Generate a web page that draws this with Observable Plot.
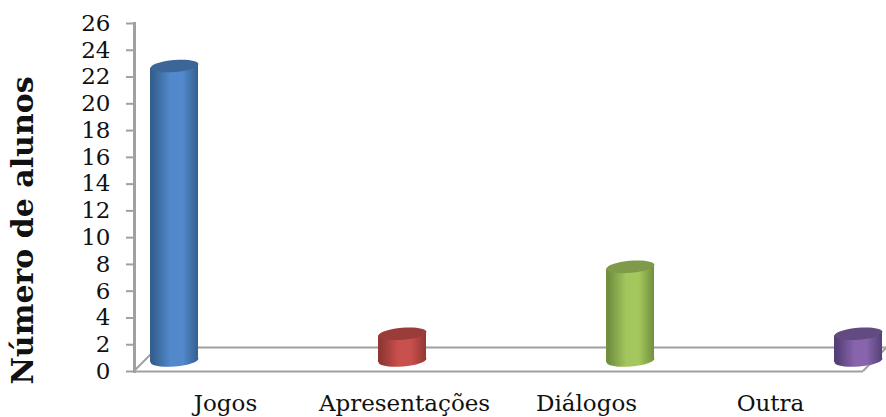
<!DOCTYPE html>
<html><head><meta charset="utf-8">
<script src="https://cdn.jsdelivr.net/npm/d3@7"></script>
<script src="https://cdn.jsdelivr.net/npm/@observablehq/plot@0.6"></script>
<style>html,body{margin:0;padding:0;background:#fff}svg{display:block}</style>
</head><body><div id="chart"></div>
<script>
const categories = ["Jogos", "Apresentações", "Diálogos", "Outra"];
const values = [22, 2, 7, 2];
const yTicks = [0, 2, 4, 6, 8, 10, 12, 14, 16, 18, 20, 22, 24, 26];
const yTitle = "Número de alunos";
const shades = [
  {edge: "#33608f", mid: "#5289cc", top: "#3c6698"},
  {edge: "#913733", mid: "#c8504d", top: "#9a3c39"},
  {edge: "#71903f", mid: "#a3c75d", top: "#7f9a48"},
  {edge: "#553f78", mid: "#8764ab", top: "#624b80"}
];
const labelShift = [51, 2, -44, -88];

const serif = "'DejaVu Serif', serif";
const gray = "#a0a0a0";
const depth = 24, lift = 11, tilt = -5 * Math.PI / 180, rx = 24, ry = 6;
const rows = categories.map((c, i) => ({c, v: values[i], i}));

const ellipse = {draw(p) {
  const k = 0.5523, cos = Math.cos(tilt), sin = Math.sin(tilt);
  const t = (x, y) => [x * cos - y * sin, x * sin + y * cos];
  p.moveTo(...t(rx, 0));
  p.bezierCurveTo(...t(rx, k * ry), ...t(k * rx, ry), ...t(0, ry));
  p.bezierCurveTo(...t(-k * rx, ry), ...t(-rx, k * ry), ...t(-rx, 0));
  p.bezierCurveTo(...t(-rx, -k * ry), ...t(-k * rx, -ry), ...t(0, -ry));
  p.bezierCurveTo(...t(k * rx, -ry), ...t(rx, -k * ry), ...t(rx, 0));
  p.closePath();
}};

function gradients() {
  const defs = d3.create("svg:defs");
  shades.forEach((s, i) => {
    const g = defs.append("linearGradient").attr("id", "cyl" + i);
    [[0, s.edge], [0.06, s.edge], [0.42, s.mid], [0.68, s.mid], [1, s.edge]].forEach(([o, col]) =>
      g.append("stop").attr("offset", o).attr("stop-color", col));
  });
  return defs.node();
}

function floorSides(index, scales, channels, dims) {
  const left = dims.marginLeft, right = dims.width - dims.marginRight, base = dims.height - dims.marginBottom;
  const g = d3.create("svg:g").attr("stroke", gray).attr("stroke-width", 2).attr("fill", "none");
  [left, right].forEach(x => g.append("line")
    .attr("x1", x).attr("y1", base).attr("x2", x + depth).attr("y2", base - depth));
  return g.node();
}

function skewed(index, scales, channels, dims, context, next) {
  const g = next(index, scales, channels, dims, context);
  d3.select(g).selectAll("rect").each(function() {
    const r = d3.select(this);
    const cx = +r.attr("x") + +r.attr("width") / 2, cy = +r.attr("y");
    r.attr("transform", `translate(${cx},${cy}) skewY(-5) translate(${-cx},${-cy})`);
  });
  return g;
}

const chart = Plot.plot({
  width: 886, height: 417,
  marginTop: 23, marginBottom: 46, marginLeft: 134, marginRight: 23,
  style: {fontFamily: serif, background: "#fff", color: "#111"},
  x: {type: "band", domain: categories, range: [149, 882], paddingInner: 0.79, paddingOuter: 0, axis: null},
  y: {domain: [0, 26], range: [371, 23], axis: null},
  marks: [
    gradients,
    Plot.ruleY([0], {stroke: gray, strokeWidth: 2}),
    Plot.ruleY([0], {stroke: gray, strokeWidth: 2, dx: depth, dy: -depth}),
    floorSides,
    Plot.frame({anchor: "left", stroke: gray, strokeWidth: 3}),
    Plot.axisY({ticks: yTicks, tickSize: 8, tickPadding: 16, stroke: gray, strokeWidth: 2, fontSize: 23, label: null, fill: "#111"}),
    ...rows.map(r => Plot.dot([r], {x: "c", y: 0, dy: -lift, symbol: ellipse, r: 5, stroke: "none", fill: `url(#cyl${r.i})`})),
    ...rows.map(r => Plot.barY([r], {x: "c", y1: 0, y2: "v", dy: -lift, fill: `url(#cyl${r.i})`, render: skewed})),
    ...rows.map(r => Plot.dot([r], {x: "c", y: "v", dy: -lift, symbol: ellipse, r: 5, stroke: "none", fill: shades[r.i].top})),
    ...categories.map((c, i) => Plot.text([c], {x: d => d, text: d => d, frameAnchor: "bottom", dx: labelShift[i], dy: 39, fontSize: 23, fill: "#111"})),
    Plot.text([yTitle], {text: d => d, frameAnchor: "left", textAnchor: "middle", rotate: -90, dx: -111, dy: 33, fontSize: 30, fontWeight: "bold", fill: "#111"})
  ]
});
document.getElementById("chart").appendChild(chart);
</script>
</body></html>
